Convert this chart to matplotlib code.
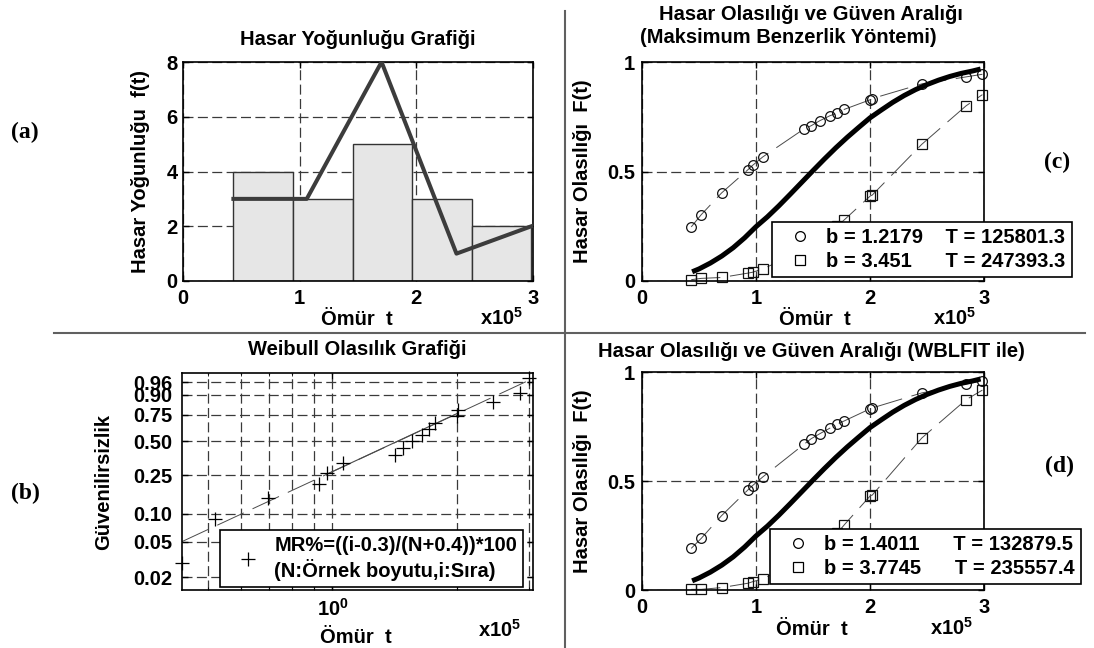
import numpy as np
import matplotlib.pyplot as plt
from matplotlib.lines import Line2D
from matplotlib.ticker import NullFormatter

plt.rcParams['font.family'] = ['Liberation Sans', 'DejaVu Sans']
plt.rcParams['font.weight'] = 'bold'
plt.rcParams['axes.labelweight'] = 'bold'
plt.rcParams['font.size'] = 14.5
plt.rcParams['mathtext.fontset'] = 'custom'
plt.rcParams['mathtext.bf'] = 'Liberation Sans:bold'
plt.rcParams['mathtext.rm'] = 'Liberation Sans:bold'
plt.rcParams['axes.linewidth'] = 1.2

# failure times (x 1e5)
lifetimes = [0.432, 0.520, 0.698, 0.929, 0.970, 1.058, 1.420, 1.484, 1.560,
             1.650, 1.712, 1.776, 2.004, 2.019, 2.454, 2.843, 2.986]

# frequency polygon
dens_t = [0.432, 1.061, 1.702, 2.344, 2.986]
dens_n = [3, 3, 8, 1, 2]

# plotting positions on the weibull paper
ranks = [0.029, 0.088, 0.147, 0.206, 0.265, 0.324, 0.382, 0.441, 0.500,
         0.559, 0.618, 0.676, 0.735, 0.794, 0.853, 0.912, 0.971]
ref_t = [0.432, 3.06]
ref_p = [0.05, 0.971]
quart_t = [0.97, 2.0]
quart_p = [0.256, 0.758]
prob_ticks = [0.02, 0.05, 0.10, 0.25, 0.50, 0.75, 0.90, 0.96]
prob_labels = ['0.02', '0.05', '0.10', '0.25', '0.50', '0.75', '0.90', '0.96']

# fitted cdf
fit_t = [0.44, 0.5, 0.6, 0.7, 0.8, 0.9, 1.0, 1.1, 1.2, 1.3, 1.4, 1.5, 1.6,
         1.7, 1.8, 1.9, 2.0, 2.1, 2.2, 2.3, 2.4, 2.5, 2.6, 2.7, 2.8, 2.9, 2.97]
fit_F = [0.042, 0.055, 0.082, 0.114, 0.152, 0.197, 0.248, 0.293, 0.343,
         0.396, 0.450, 0.504, 0.557, 0.608, 0.656, 0.701, 0.745, 0.781,
         0.816, 0.847, 0.874, 0.897, 0.917, 0.934, 0.948, 0.959, 0.968]

# confidence bounds, maximum likelihood
mle_hi = [0.247, 0.303, 0.402, 0.508, 0.528, 0.566, 0.694, 0.709, 0.732,
          0.755, 0.766, 0.784, 0.828, 0.833, 0.900, 0.932, 0.944]
mle_lo = [0.006, 0.012, 0.016, 0.036, 0.040, 0.055, 0.14, 0.16, 0.18,
          0.22, 0.25, 0.28, 0.389, 0.392, 0.624, 0.800, 0.851]
mle_labels = ['b = 1.2179    T = 125801.3', 'b = 3.451      T = 247393.3']

# confidence bounds, wblfit
wbl_hi = [0.191, 0.237, 0.341, 0.459, 0.479, 0.518, 0.668, 0.694, 0.717,
          0.743, 0.761, 0.776, 0.832, 0.835, 0.904, 0.945, 0.959]
wbl_lo = [0.003, 0.003, 0.011, 0.031, 0.038, 0.051, 0.14, 0.16, 0.19,
          0.23, 0.26, 0.30, 0.433, 0.435, 0.697, 0.873, 0.917]
wbl_labels = ['b = 1.4011      T = 132879.5', 'b = 3.7745      T = 235557.4']

W, H = 1094, 648
fig = plt.figure(figsize=(W / 100, H / 100), dpi=100)

GRID = dict(color='#3a3a3a', lw=0.9, linestyle=(0, (8, 3.5)))


def box(l, t, r, b):
    return [l / W, 1 - b / H, (r - l) / W, (b - t) / H]


def ftext(x, y, s, **kw):
    kw.setdefault('va', 'baseline')
    kw.setdefault('ha', 'center')
    fig.text(x / W, 1 - y / H, s, **kw)


def style(ax, pad):
    ax.tick_params(direction='in', length=4, width=1, pad=pad, top=True, right=True)
    ax.set_axisbelow(True)


# (a) histogram
ax_a = fig.add_axes(box(183, 62, 533, 281))
ax_a.hist(lifetimes, bins=5, color='#e6e6e6', edgecolor='#333333', lw=1, zorder=2)
ax_a.plot(dens_t, dens_n, color='#3c3c3c', lw=2.9, zorder=3)
ax_a.set_xlim(0, 3)
ax_a.set_ylim(0, 8)
ax_a.set_xticks([0, 1, 2, 3])
ax_a.set_yticks([0, 2, 4, 6, 8])
ax_a.grid(True, **GRID)
style(ax_a, 4)
ax_a.tick_params(axis='x', pad=6)
ax_a.set_ylabel('Hasar Yoğunluğu  f(t)')
ax_a.yaxis.set_label_coords(-0.094, 0.5)
ftext(358, 45, 'Hasar Yoğunluğu Grafiği')
ftext(357, 325, 'Ömür  t')
ftext(480, 325, r'$\mathbf{x10^{5}}$', ha='left')


# (c), (d) cdf with bounds
def cdf_panel(rect, hi, lo, labels, leg_xy):
    ax = fig.add_axes(box(*rect))
    line = dict(color='#4a4a4a', lw=0.7, dashes=(30, 10), clip_on=False)
    ax.plot(lifetimes, hi, marker='o', ms=7, mfc='none', mec='#111111', mew=0.9, **line)
    ax.plot(lifetimes, lo, marker='s', ms=6.5, mfc='none', mec='#111111', mew=0.9, **line)
    ax.plot(fit_t, fit_F, color='black', lw=3.6, solid_capstyle='butt',
            solid_joinstyle='round')
    ax.set_xlim(0, 3)
    ax.set_ylim(0, 1)
    ax.set_xticks([0, 1, 2, 3])
    ax.set_yticks([0, 0.5, 1])
    ax.set_yticklabels(['0', '0.5', '1'])
    ax.grid(True, **GRID)
    style(ax, 5)
    ax.tick_params(axis='x', pad=6)
    ax.set_ylabel('Hasar Olasılığı  F(t)')
    ax.yaxis.set_label_coords(-0.146, 0.5)
    handles = [Line2D([], [], ls='none', marker='o', ms=7, mfc='none', mec='black', mew=0.9),
               Line2D([], [], ls='none', marker='s', ms=6.5, mfc='none', mec='black', mew=0.9)]
    leg = ax.legend(handles, labels, loc='lower left', bbox_to_anchor=leg_xy,
                    fancybox=False, framealpha=1, edgecolor='black',
                    borderpad=0.3, handlelength=2.2, handletextpad=0.2,
                    labelspacing=0.25, borderaxespad=0)
    leg.get_frame().set_linewidth(1.2)
    return ax


ax_c = cdf_panel((642, 62, 984, 281), mle_hi, mle_lo, mle_labels, (0.38, 0.018))
ftext(811, 20, 'Hasar Olasılığı ve Güven Aralığı')
ftext(640, 43, '(Maksimum Benzerlik Yöntemi)', ha='left')
ftext(815, 325, 'Ömür  t')
ftext(933, 325, r'$\mathbf{x10^{5}}$', ha='left')

ax_d = cdf_panel((642, 372, 984, 590), wbl_hi, wbl_lo, wbl_labels, (0.374, 0.026))
ftext(811, 357, 'Hasar Olasılığı ve Güven Aralığı (WBLFIT ile)')
ftext(812, 635, 'Ömür  t')
ftext(930, 635, r'$\mathbf{x10^{5}}$', ha='left')


# (b) weibull probability paper
def fwd(p):
    p = np.clip(p, 1e-6, 1 - 1e-9)
    return np.log(-np.log(1 - p))


def inv(t):
    return 1 - np.exp(-np.exp(t))


ax_b = fig.add_axes(box(182, 373, 533, 590))
ax_b.set_xscale('log')
ax_b.set_yscale('function', functions=(fwd, inv))
ax_b.plot(ref_t, ref_p, color='#4a4a4a', lw=0.7, dashes=(30, 10))
ax_b.plot(quart_t, quart_p, color='#4a4a4a', lw=0.8)
ax_b.plot(lifetimes, ranks, ls='none', marker='+', ms=10, mew=0.9,
          color='black', clip_on=False)
ax_b.set_xlim(0.432, 3.06)
ax_b.set_ylim(0.0145, 0.983)
ax_b.set_yticks(prob_ticks)
ax_b.set_yticklabels(prob_labels)
ax_b.set_xticks([1])
ax_b.set_xticklabels([r'$\mathbf{10^{0}}$'])
ax_b.set_xticks([0.5, 0.6, 0.7, 0.8, 0.9, 2, 3], minor=True)
ax_b.xaxis.set_minor_formatter(NullFormatter())
ax_b.yaxis.set_minor_formatter(NullFormatter())
ax_b.yaxis.set_minor_locator(plt.NullLocator())
ax_b.grid(True, which='both', **GRID)
style(ax_b, 7)
ax_b.tick_params(axis='x', pad=6)
ax_b.tick_params(which='minor', direction='in', length=2, top=True)
ax_b.set_ylabel('Güvenilirsizlik')
ax_b.yaxis.set_label_coords(-0.197, 0.5)
leg = ax_b.legend([Line2D([], [], ls='none', marker='+', ms=10, mew=0.9, color='black')],
                  ['MR%=((i-0.3)/(N+0.4))*100\n(N:Örnek boyutu,i:Sıra)'],
                  loc='lower left', bbox_to_anchor=(0.108, 0.014), fancybox=False,
                  framealpha=1, edgecolor='black', borderpad=0.3, handlelength=2.2,
                  handletextpad=0.2, borderaxespad=0)
leg.get_frame().set_linewidth(1.2)
ftext(357, 355, 'Weibull Olasılık Grafiği')
ftext(356, 643, 'Ömür  t')
ftext(478, 637, r'$\mathbf{x10^{5}}$', ha='left')

# separators and panel tags
fig.add_artist(Line2D([54 / W, 1085 / W], [1 - 333 / H, 1 - 333 / H], color='#606060', lw=1.5))
fig.add_artist(Line2D([565 / W, 565 / W], [1 - 11 / H, 0], color='#606060', lw=1.5))
tag = dict(family='Liberation Serif', fontweight='bold', fontsize=17, va='center')
ftext(25, 132, '(a)', **tag)
ftext(25, 493, '(b)', **tag)
ftext(1057, 162, '(c)', **tag)
ftext(1060, 466, '(d)', **tag)

fig.savefig('out.png', dpi=100)
